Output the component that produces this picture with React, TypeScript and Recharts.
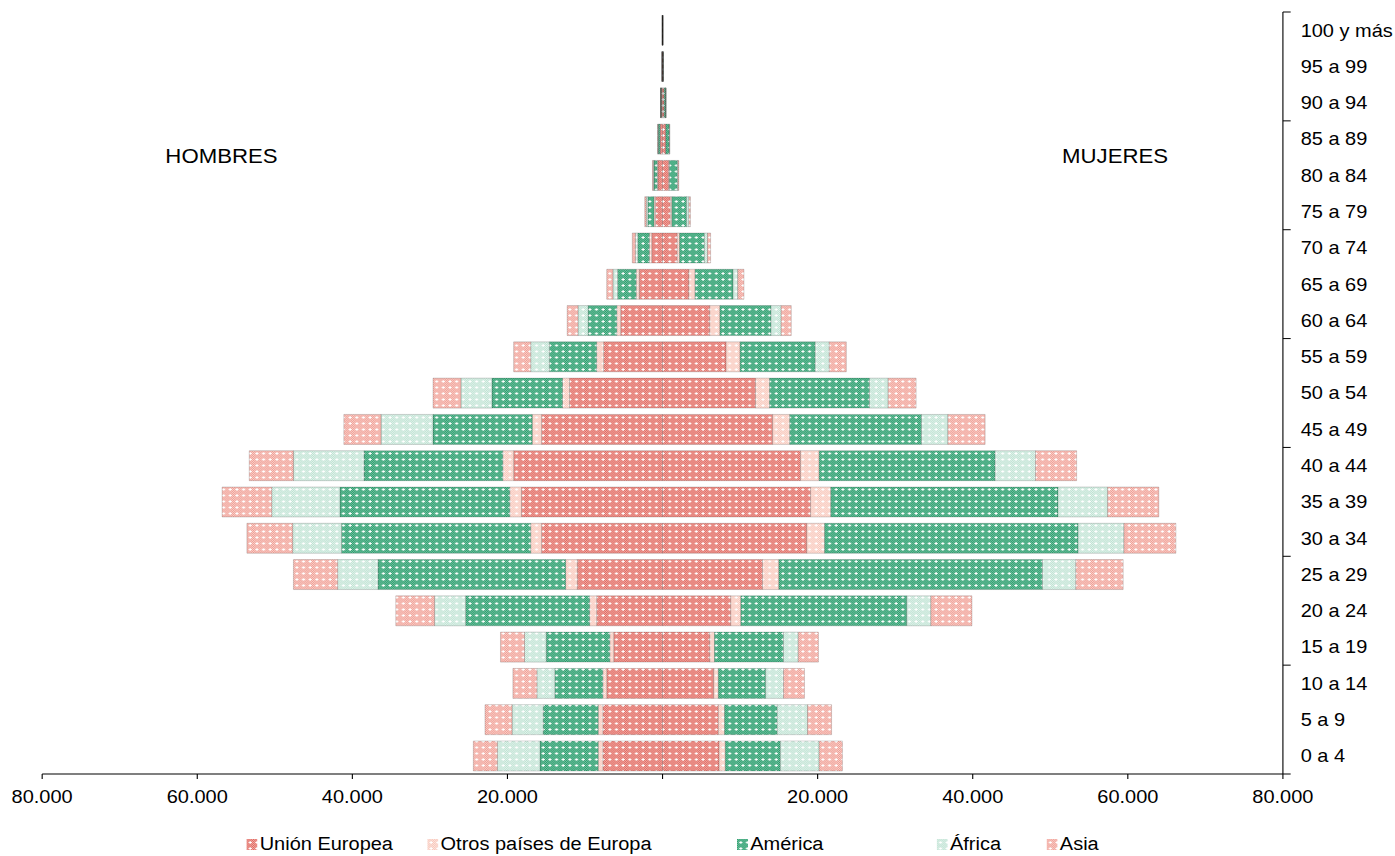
import { BarChart, Bar, XAxis, YAxis, Legend } from 'recharts';

const ages = ['0 a 4', '5 a 9', '10 a 14', '15 a 19', '20 a 24', '25 a 29', '30 a 34', '35 a 39', '40 a 44', '45 a 49', '50 a 54', '55 a 59', '60 a 64', '65 a 69', '70 a 74', '75 a 79', '80 a 84', '85 a 89', '90 a 94', '95 a 99', '100 y más'];

// hombres
const ueM = [7700, 7700, 7200, 6300, 8500, 11000, 15600, 18200, 19200, 15600, 12000, 7600, 5400, 3000, 1400, 900, 600, 300, 150, 40, 20];
const otrosM = [600, 600, 500, 500, 900, 1500, 1400, 1500, 1400, 1200, 900, 900, 500, 400, 300, 200, 100, 50, 20, 5, 3];
const amerM = [7500, 7100, 6200, 8200, 16000, 24200, 24400, 21900, 17900, 12800, 9100, 6100, 3700, 2400, 1500, 800, 400, 200, 60, 15, 5];
const afrM = [5500, 4000, 2300, 2800, 4000, 5200, 6300, 8800, 9100, 6700, 4000, 2400, 1300, 600, 300, 200, 100, 40, 10, 3, 2];
const asiaM = [3100, 3500, 3100, 3100, 5000, 5700, 5900, 6400, 5700, 4800, 3600, 2200, 1400, 800, 400, 200, 100, 50, 10, 3, 2];

// mujeres
const ueF = [7300, 7200, 6600, 6100, 8800, 12900, 18600, 19100, 17800, 14200, 12000, 8200, 6100, 3400, 1900, 1000, 800, 400, 200, 50, 25];
const otrosF = [800, 800, 600, 600, 1300, 2100, 2300, 2600, 2400, 2200, 1800, 1800, 1300, 800, 300, 200, 100, 50, 20, 5, 3];
const amerF = [7100, 6800, 6100, 8900, 21400, 34000, 32700, 29300, 22700, 17000, 12900, 9700, 6600, 4900, 3200, 1900, 1000, 400, 200, 30, 10];
const afrF = [5000, 3900, 2300, 1900, 3100, 4300, 5900, 6400, 5200, 3400, 2400, 1800, 1300, 600, 400, 300, 100, 50, 10, 3, 2];
const asiaF = [3000, 3100, 2700, 2600, 5300, 6100, 6700, 6600, 5300, 4800, 3600, 2200, 1300, 800, 400, 200, 100, 50, 10, 3, 2];

const xTicks = [-80000, -60000, -40000, -20000, 0, 20000, 40000, 60000, 80000];

const series = [
  { key: 'ue', name: 'Unión Europea', dark: '#de6a62', light: '#f3aaa4' },
  { key: 'otros', name: 'Otros países de Europa', dark: '#f8c6ba', light: '#fde6df' },
  { key: 'amer', name: 'América', dark: '#2c9a6b', light: '#74c6a4' },
  { key: 'afr', name: 'África', dark: '#bde2d2', light: '#e3f3ec' },
  { key: 'asia', name: 'Asia', dark: '#f09e94', light: '#f9d0ca' },
];

const data = ages.map((age, i) => ({
  age,
  ueM: -ueM[i], otrosM: -otrosM[i], amerM: -amerM[i], afrM: -afrM[i], asiaM: -asiaM[i],
  ueF: ueF[i], otrosF: otrosF[i], amerF: amerF[i], afrF: afrF[i], asiaF: asiaF[i],
}));

const font = '"Liberation Sans", Arial, sans-serif';

// the original is horizontally stretched; draw narrower and scale in x
const W = 1257;
const H = 856;
const SX = 1395 / W;
const M = { top: 12, right: 10, left: 38, bottom: 0 };
const LEGEND_H = 24;
const XAXIS_H = 58;
const band = (H - M.top - M.bottom - LEGEND_H - XAXIS_H) / ages.length;
const TICK_MARGIN = 16;

function Pattern({ id, dark, light }: { id: string; dark: string; light: string }) {
  const cells = [];
  for (let y = 0; y < 6; y++) {
    for (let x = 0; x < 6; x++) {
      if ((x + y) % 2 === 0) cells.push(<rect key={`${x}-${y}`} x={x} y={y} width={1} height={1} fill={dark} />);
    }
  }
  return (
    <pattern id={id} width={6} height={6} patternUnits="userSpaceOnUse">
      <rect width={6} height={6} fill={light} />
      {cells}
      <rect x={2} y={3} width={3} height={1} fill="#fff" />
      <rect x={3} y={2} width={1} height={3} fill="#fff" />
    </pattern>
  );
}

function AgeTick(props: any) {
  const { x, y, payload, index } = props;
  const ax = x - TICK_MARGIN;
  const marks = [];
  if (index % 3 === 0) marks.push(y + band / 2);
  if (index === ages.length - 1) marks.push(y - band / 2);
  return (
    <g>
      {marks.map((my, k) => (
        <line key={k} x1={ax} x2={ax + 7} y1={my} y2={my} stroke="#000" strokeWidth={1} />
      ))}
      <text x={x} y={y} dy="0.355em" textAnchor="start" fill="#000" fontSize={18} fontFamily={font}>
        {payload.value}
      </text>
    </g>
  );
}

const legendWidths = [163, 279, 180, 99, 70];

function LegendContent() {
  return (
    <div style={{ display: 'flex', paddingLeft: 222, fontFamily: font, fontSize: 18, color: '#000', lineHeight: '24px' }}>
      {series.map((s, i) => (
        <div key={s.key} style={{ width: legendWidths[i], display: 'flex', alignItems: 'center' }}>
          <svg width={10} height={11} style={{ marginRight: 2 }}>
            <rect width={10} height={11} fill={`url(#pat-${s.key})`} />
          </svg>
          <span>{s.name}</span>
        </div>
      ))}
    </div>
  );
}

const fmt = (v: number) => (v === 0 ? '' : `${Math.abs(v) / 1000}.000`);

export default function App() {
  return (
    <div style={{ position: 'absolute', left: 0, top: 0, width: 1395, height: H, background: '#fff', overflow: 'hidden' }}>
      <div style={{ position: 'relative', width: W, height: H, transform: `scaleX(${SX})`, transformOrigin: '0 0' }}>
        <BarChart
          width={W}
          height={H}
          data={data}
          layout="vertical"
          stackOffset="sign"
          barCategoryGap="9%"
          margin={M}
        >
          <defs>
            {series.map((s) => (
              <Pattern key={s.key} id={`pat-${s.key}`} dark={s.dark} light={s.light} />
            ))}
          </defs>
          <XAxis
            type="number"
            domain={[-80000, 80000]}
            ticks={xTicks}
            tickFormatter={fmt}
            height={XAXIS_H}
            tickSize={5}
            tickMargin={11}
            stroke="#000"
            tick={{ fill: '#000', fontSize: 18, fontFamily: font }}
            allowDataOverflow
          />
          <YAxis
            type="category"
            dataKey="age"
            orientation="right"
            reversed
            width={91}
            tickLine={false}
            tickSize={0}
            tickMargin={TICK_MARGIN}
            stroke="#000"
            tick={<AgeTick />}
            interval={0}
          />
          {series.map((s) => (
            <Bar
              key={`${s.key}M`}
              dataKey={`${s.key}M`}
              name={s.name}
              stackId="a"
              fill={`url(#pat-${s.key})`}
              stroke="rgba(0,0,0,0.22)"
              strokeWidth={0.7}
              legendType="none"
              isAnimationActive={false}
            />
          ))}
          {series.map((s) => (
            <Bar
              key={`${s.key}F`}
              dataKey={`${s.key}F`}
              name={s.name}
              stackId="a"
              fill={`url(#pat-${s.key})`}
              stroke="rgba(0,0,0,0.22)"
              strokeWidth={0.7}
              isAnimationActive={false}
            />
          ))}
          <Legend verticalAlign="bottom" height={LEGEND_H} content={() => <LegendContent />} wrapperStyle={{ left: 0, width: W }} />
        </BarChart>
        <div style={{ position: 'absolute', left: 149, top: 145, fontFamily: font, fontSize: 20, color: '#000' }}>HOMBRES</div>
        <div style={{ position: 'absolute', left: 957, top: 145, fontFamily: font, fontSize: 20, color: '#000' }}>MUJERES</div>
      </div>
    </div>
  );
}
